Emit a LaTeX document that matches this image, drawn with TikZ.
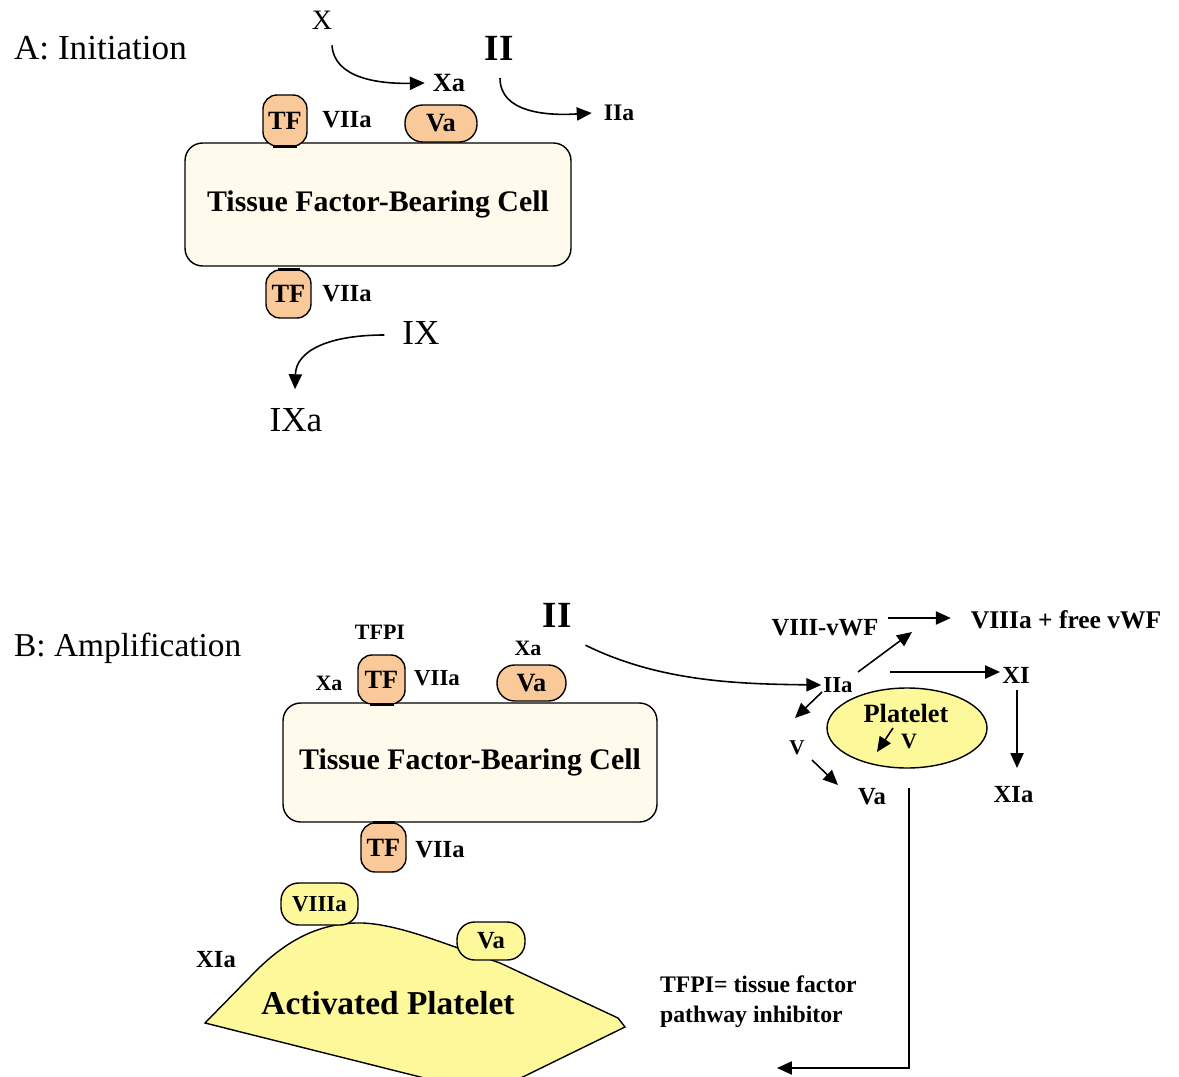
\documentclass[tikz,border=0pt]{standalone}
\usepackage{fontspec}
\setmainfont{Liberation Serif}
\usetikzlibrary{arrows.meta,shapes.geometric}
\newcommand{\myfs}[1]{\fontsize{#1}{#1}\selectfont}
\definecolor{tfc}{RGB}{250,201,153}
\definecolor{cellc}{RGB}{255,251,236}
\definecolor{platc}{RGB}{253,249,155}
\begin{document}
\begin{tikzpicture}[x=0.02cm,y=-0.02cm,
  every node/.style={inner sep=1pt},
  bl/.style={font=\bfseries\myfs{#1}},
  rg/.style={font=\myfs{#1}},
  tf/.style={draw=black, line width=0.8pt, fill=tfc, rounded corners=8pt, font=\bfseries\myfs{15}, inner sep=0pt},
  cell/.style={draw=black, line width=0.8pt, fill=cellc, rounded corners=10pt, font=\bfseries\myfs{17}},
  yel/.style={draw=black, line width=0.8pt, fill=platc, rounded corners=10pt, font=\bfseries\myfs{13}, inner sep=0pt},
  bar/.style={line width=1.6pt},
  arr/.style={-{Triangle[length=8.5pt,width=7.5pt]}, line width=0.9pt},
]
\useasboundingbox (0,0) rectangle (1179,1077);

%% ---------------- A: Initiation ----------------
\node[rg=20, anchor=west] (titleA) at (12,48) {A: Initiation};
\node[rg=16] (X) at (322,20) {X};
\node[bl=15] (XaA) at (449,83) {Xa};
\node[bl=21] (IIA) at (499,48) {II};
\node[bl=13.5] (IIaA) at (619,113) {IIa};

\node[cell, minimum width=7.72cm, minimum height=2.46cm] (cellA) at (378,204.5) {Tissue Factor-Bearing Cell};
\node[tf, minimum width=0.88cm, minimum height=1.02cm] (tfA1) at (285,120.5) {TF};
\node[bl=14] (v7A1) at (347,120) {VIIa};
\node[tf, rounded corners=10pt, minimum width=1.44cm, minimum height=0.74cm] (vaA) at (441,123.5) {Va};
\node[tf, minimum width=0.9cm, minimum height=0.96cm] (tfA2) at (288.5,294) {TF};
\node[bl=14] (v7A2) at (347,294) {VIIa};
\draw[bar] ([shift={(-12,0)}]tfA1.south) -- ([shift={(12,0)}]tfA1.south);
\draw[bar] ([shift={(-11,0)}]tfA2.north) -- ([shift={(11,0)}]tfA2.north);
\node[rg=20] (IX) at (421,333) {IX};
\node[rg=20] (IXa) at (296,420) {IXa};

\draw[arr] ([shift={(10,14)}]X.south) .. controls (334,78) and (378,84) .. ([shift={(-6,0)}]XaA.west);
\draw[arr] ([shift={(1,16)}]IIA.south) .. controls (500,112) and (545,116) .. ([shift={(-10,0)}]IIaA.west);
\draw[arr] ([shift={(-16,2)}]IX.west) .. controls (330,335) and (296,350) .. ([shift={(-1,-17)}]IXa.north);

%% ---------------- B: Amplification ----------------
\node[rg=19, anchor=west] (titleB) at (12,648) {B: Amplification};
\node[cell, minimum width=7.48cm, minimum height=2.38cm] (cellB) at (470,762.5) {Tissue Factor-Bearing Cell};
\node[tf, minimum width=0.94cm, minimum height=0.98cm] (tfB1) at (381.5,679.5) {TF};
\node[tf, rounded corners=10pt, minimum width=1.38cm, minimum height=0.72cm] (vaB) at (531.5,683) {Va};
\node[tf, minimum width=0.9cm, minimum height=0.98cm] (tfB2) at (383.5,847.5) {TF};
\draw[bar] ([shift={(-12,0)}]tfB1.south) -- ([shift={(12,0)}]tfB1.south);
\draw[bar] ([shift={(-11,0)}]tfB2.north) -- ([shift={(11,0)}]tfB2.north);
\node[bl=12.5] (tfpi) at (380,632) {TFPI};
\node[bl=12.5] (xaB1) at (329,683) {Xa};
\node[bl=13] (v7B1) at (437,678) {VIIa};
\node[bl=12.5] (xaB2) at (528,648) {Xa};
\node[bl=14] (v7B2) at (440,850) {VIIa};
\node[bl=21] (IIB) at (557,615) {II};

\node[bl=14] (viii) at (825,628) {VIII-vWF};
\node[bl=14.5] (viiia) at (1066,620) {VIIIa + free vWF};
\node[bl=13] (IIaB) at (838,685) {IIa};
\node[bl=14] (XI) at (1016,675) {XI};
\node[bl=14] (XIa) at (1013.5,795) {XIa};
\node[draw=black, line width=0.8pt, ellipse, fill=platc, minimum width=3.2cm, minimum height=1.6cm] (plt) at (907,728) {};
\node[bl=15] (pltxt) at (906,713) {Platelet};
\node[bl=12.5] (vin) at (909,741) {V};
\node[bl=12] (vl) at (797,748) {V};
\node[bl=14] (vaR) at (872,797) {Va};
\coordinate (cat8) at (912,632);
\coordinate (tfpiEnd) at (777,1068);

\draw[arr] ([shift={(12,16)}]IIB.south east) .. controls (660,682) and (740,684) .. (IIaB.west);
\draw[arr] ([shift={(8,-10)}]viii.east) -- ([shift={(-18,-2)}]viiia.west);
\draw[arr] ([shift={(20,-13)}]IIaB.center) -- (cat8);
\draw[arr] ([shift={(52,-13)}]IIaB.center) -- ([shift={(-16,-3)}]XI.center);
\draw[arr] ([shift={(1,15)}]XI.center) -- ([shift={(3.5,-27)}]XIa.center);
\draw[arr] ([shift={(-16,7)}]IIaB.center) -- ([shift={(-2,-30)}]vl.center);
\draw[arr] ([shift={(15,12)}]vl.center) -- ([shift={(-34,-12)}]vaR.center);
\draw[arr] ([shift={(-13,15)}]pltxt.center) -- ([shift={(-32,11)}]vin.center);
\draw[arr] ([shift={(2,19)}]plt.south) |- (tfpiEnd);

\node[bl=13.5, anchor=west, align=left] (legend) at (658,1002)
  {TFPI= tissue factor\\[3.5pt]pathway inhibitor};

%% activated platelet
\begin{scope}
\clip (0,0) rectangle (1179,1077);
\draw[fill=platc, line width=0.8pt] (205,1023) -- (250,977) .. controls (285,940) and (320,922) .. (363,923)
  .. controls (400,925) and (440,942) .. (500,963) -- (618,1018) -- (625,1027) -- (488,1094) -- cycle;
\end{scope}
\node[yel, minimum width=1.54cm, minimum height=0.84cm] (viiiaP) at (319.5,904) {VIIIa};
\node[yel, minimum width=1.36cm, minimum height=0.76cm, font=\bfseries\myfs{14}] (vaP) at (491,941) {Va};
\node[bl=14] (xiaP) at (216,960) {XIa};
\node[bl=19] (actP) at (388,1003) {Activated Platelet};
\end{tikzpicture}
\end{document}
